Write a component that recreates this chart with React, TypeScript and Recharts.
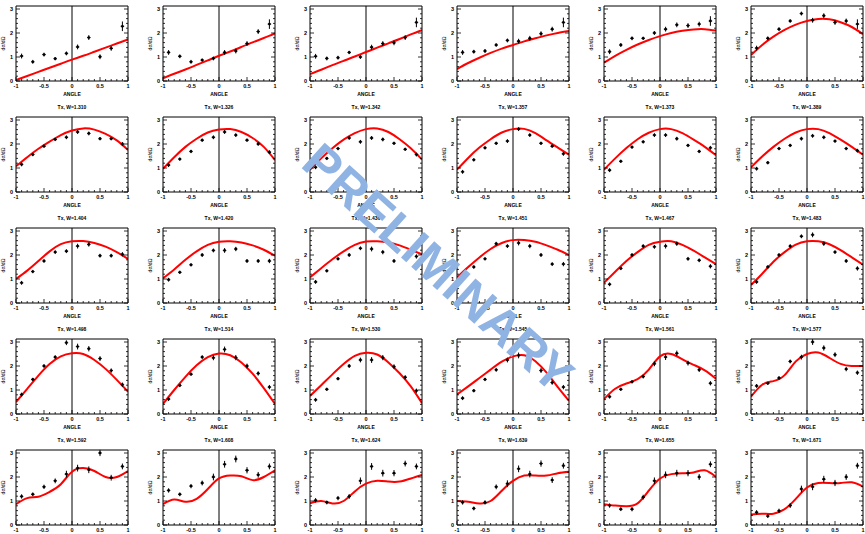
import React from 'react';
import {
  ComposedChart,
  Line,
  Scatter,
  ErrorBar,
  XAxis,
  YAxis,
  ReferenceLine,
} from 'recharts';

const angleBins = [-0.9, -0.7, -0.5, -0.3, -0.1, 0.1, 0.3, 0.5, 0.7, 0.9];
const fitAngles = [-1, -0.8, -0.6, -0.4, -0.2, 0, 0.2, 0.4, 0.6, 0.8, 1];

const xTicks = [-1, -0.9, -0.8, -0.7, -0.6, -0.5, -0.4, -0.3, -0.2, -0.1, 0, 0.1, 0.2, 0.3, 0.4, 0.5, 0.6, 0.7, 0.8, 0.9, 1];
const yTicks = [0, 0.2, 0.4, 0.6, 0.8, 1, 1.2, 1.4, 1.6, 1.8, 2, 2.2, 2.4, 2.6, 2.8, 3];

// titles of panels in rows 2-5 (the top row's titles fall outside the picture)
const panelTitles = [
  'Tx, W=1.310', 'Tx, W=1.326', 'Tx, W=1.342', 'Tx, W=1.357', 'Tx, W=1.373', 'Tx, W=1.389',
  'Tx, W=1.404', 'Tx, W=1.420', 'Tx, W=1.436', 'Tx, W=1.451', 'Tx, W=1.467', 'Tx, W=1.483',
  'Tx, W=1.498', 'Tx, W=1.514', 'Tx, W=1.530', 'Tx, W=1.545', 'Tx, W=1.561', 'Tx, W=1.577',
  'Tx, W=1.592', 'Tx, W=1.608', 'Tx, W=1.624', 'Tx, W=1.639', 'Tx, W=1.655', 'Tx, W=1.671',
];

// measured points, one list per panel, per row
const row1Points = [
  [1.04, 0.8, 1.1, 0.93, 1.15, 1.42, 1.81, 1.01, 1.36, 2.28],
  [1.19, 1.03, 0.8, 0.87, 0.94, 1.19, 1.25, 1.56, 2.06, 2.37],
  [1.03, 0.94, 0.97, 1.19, 1.0, 1.41, 1.56, 1.59, 1.81, 2.44],
  [1.19, 1.22, 1.25, 1.5, 1.69, 1.66, 1.78, 1.97, 2.16, 2.44],
  [1.22, 1.5, 1.78, 1.78, 2.0, 2.16, 2.34, 2.31, 2.37, 2.5],
  [1.37, 1.78, 2.16, 2.5, 2.81, 2.53, 2.72, 2.44, 2.5, 2.37],
];
const row2Points = [
  [1.15, 1.56, 1.91, 2.19, 2.28, 2.5, 2.44, 2.22, 2.22, 2.0],
  [1.12, 1.37, 1.69, 2.16, 2.28, 2.5, 2.37, 2.16, 2.0, 1.66],
  [1.03, 1.4, 1.81, 2.25, 2.09, 2.25, 2.19, 2.03, 1.78, 1.56],
  [0.84, 1.34, 1.84, 2.03, 2.12, 2.62, 2.37, 2.03, 1.91, 1.59],
  [0.91, 1.28, 1.87, 2.09, 2.37, 2.37, 2.22, 1.94, 1.69, 1.84],
  [0.97, 1.22, 1.81, 1.94, 2.22, 2.34, 2.28, 2.12, 1.81, 1.72],
];
const row3Points = [
  [0.84, 1.31, 1.75, 2.12, 2.16, 2.37, 2.44, 1.97, 1.97, 2.03],
  [0.97, 1.28, 1.59, 2.0, 2.19, 2.19, 2.25, 1.75, 1.75, 1.75],
  [0.88, 1.34, 1.84, 2.0, 2.28, 2.25, 2.12, 1.75, 1.87, 1.94],
  [1.03, 1.5, 1.84, 2.47, 2.37, 2.5, 2.37, 2.0, 1.62, 1.62],
  [0.78, 1.44, 2.0, 2.37, 2.34, 2.37, 2.47, 1.84, 1.78, 1.53],
  [0.88, 1.5, 2.0, 2.37, 2.78, 2.84, 2.47, 2.12, 1.75, 1.44],
];
const row4Points = [
  [0.81, 1.44, 2.0, 2.37, 2.97, 2.81, 2.72, 2.31, 1.81, 1.22],
  [0.62, 1.19, 1.66, 2.37, 2.34, 2.69, 2.35, 2.0, 1.69, 1.12],
  [0.59, 1.03, 1.47, 2.0, 2.25, 2.25, 2.35, 1.97, 1.53, 0.97],
  [0.66, 0.97, 1.44, 1.84, 2.25, 2.44, 2.25, 1.81, 1.31, 1.12],
  [0.72, 1.03, 1.34, 1.56, 2.09, 2.37, 2.53, 2.12, 1.84, 1.28],
  [1.17, 1.28, 1.5, 2.19, 2.37, 3.0, 2.75, 2.47, 1.87, 1.72],
];
const row5Points = [
  [1.19, 1.28, 1.59, 1.84, 2.12, 2.37, 2.3, 3.0, 1.97, 2.44],
  [1.44, 1.28, 1.62, 1.75, 2.0, 2.53, 2.75, 2.28, 2.09, 2.44],
  [1.03, 0.94, 1.12, 1.19, 1.84, 2.44, 2.16, 2.16, 2.56, 2.44],
  [0.94, 0.69, 0.94, 1.59, 1.72, 2.34, 2.12, 2.56, 1.87, 2.47],
  [0.81, 0.66, 0.66, 1.16, 1.84, 2.09, 2.16, 2.16, 2.0, 2.53],
  [0.53, 0.37, 0.59, 0.81, 1.5, 1.59, 1.91, 1.75, 2.0, 2.47],
];

// error bar half-lengths, shared along a row
const row1Errors = [0.1, 0.08, 0.08, 0.07, 0.08, 0.1, 0.1, 0.1, 0.1, 0.2];
const row2Errors = [0.08, 0.07, 0.07, 0.07, 0.08, 0.08, 0.08, 0.07, 0.07, 0.08];
const row3Errors = [0.08, 0.07, 0.07, 0.08, 0.08, 0.1, 0.09, 0.08, 0.08, 0.09];
const row4Errors = [0.08, 0.07, 0.07, 0.08, 0.1, 0.12, 0.11, 0.1, 0.09, 0.09];
const row5Errors = [0.09, 0.08, 0.09, 0.1, 0.14, 0.14, 0.14, 0.13, 0.12, 0.12];

// red fit curve read at fitAngles
const row1Fit = [
  [0.04, 0.21, 0.38, 0.55, 0.72, 0.89, 1.05, 1.22, 1.39, 1.56, 1.73],
  [0.11, 0.3, 0.48, 0.67, 0.86, 1.05, 1.23, 1.42, 1.61, 1.79, 1.98],
  [0.29, 0.47, 0.66, 0.84, 1.02, 1.21, 1.39, 1.57, 1.75, 1.94, 2.12],
  [0.5, 0.75, 0.97, 1.17, 1.35, 1.5, 1.65, 1.78, 1.9, 2.0, 2.08],
  [0.76, 1.05, 1.3, 1.52, 1.71, 1.87, 2.0, 2.09, 2.15, 2.16, 2.1],
  [1.08, 1.5, 1.85, 2.13, 2.35, 2.5, 2.58, 2.57, 2.45, 2.25, 1.95],
];
const row2Fit = [
  [1.07, 1.45, 1.8, 2.1, 2.37, 2.56, 2.65, 2.6, 2.42, 2.15, 1.75],
  [0.97, 1.45, 1.88, 2.22, 2.48, 2.6, 2.62, 2.5, 2.25, 1.88, 1.33],
  [0.93, 1.4, 1.82, 2.18, 2.45, 2.62, 2.65, 2.5, 2.2, 1.82, 1.35],
  [0.93, 1.42, 1.85, 2.2, 2.48, 2.62, 2.63, 2.45, 2.15, 1.85, 1.55],
  [0.93, 1.4, 1.83, 2.2, 2.47, 2.62, 2.62, 2.45, 2.18, 1.88, 1.53],
  [1.03, 1.48, 1.88, 2.22, 2.48, 2.62, 2.62, 2.45, 2.18, 1.88, 1.55],
];
const row3Fit = [
  [1.0, 1.35, 1.75, 2.15, 2.45, 2.57, 2.58, 2.5, 2.35, 2.12, 1.84],
  [1.03, 1.4, 1.8, 2.15, 2.42, 2.55, 2.57, 2.52, 2.4, 2.22, 1.97],
  [1.07, 1.45, 1.82, 2.15, 2.42, 2.56, 2.57, 2.52, 2.4, 2.22, 2.03],
  [1.07, 1.5, 1.9, 2.25, 2.5, 2.62, 2.62, 2.55, 2.4, 2.22, 2.0],
  [0.84, 1.3, 1.75, 2.12, 2.42, 2.55, 2.57, 2.42, 2.18, 1.9, 1.62],
  [0.75, 1.22, 1.72, 2.12, 2.43, 2.57, 2.57, 2.45, 2.2, 1.9, 1.6],
];
const row4Fit = [
  [0.5, 1.05, 1.6, 2.08, 2.4, 2.53, 2.5, 2.25, 1.88, 1.42, 0.93],
  [0.42, 1.0, 1.55, 2.03, 2.37, 2.52, 2.45, 2.15, 1.68, 1.08, 0.42],
  [0.75, 1.2, 1.65, 2.08, 2.42, 2.55, 2.48, 2.15, 1.7, 1.15, 0.45],
  [0.81, 1.15, 1.5, 1.85, 2.18, 2.4, 2.45, 2.2, 1.72, 1.12, 0.55],
  [0.62, 1.05, 1.27, 1.45, 1.85, 2.4, 2.5, 2.28, 2.05, 1.82, 1.47],
  [0.72, 1.22, 1.37, 1.62, 2.19, 2.5, 2.56, 2.34, 2.09, 2.0, 2.0],
];
const row5Fit = [
  [0.87, 1.12, 1.18, 1.38, 1.7, 2.22, 2.37, 2.25, 2.0, 2.0, 2.25],
  [0.87, 1.06, 0.97, 1.09, 1.5, 1.94, 2.06, 2.03, 1.87, 2.0, 2.28],
  [0.9, 1.0, 0.9, 1.0, 1.4, 1.72, 1.84, 1.81, 1.81, 1.94, 2.09],
  [1.0, 0.97, 0.9, 1.0, 1.43, 1.84, 2.06, 2.06, 2.06, 2.16, 2.22],
  [0.87, 0.81, 0.78, 0.9, 1.43, 1.94, 2.12, 2.16, 2.19, 2.28, 2.0],
  [0.44, 0.47, 0.47, 0.66, 1.09, 1.56, 1.75, 1.75, 1.75, 1.78, 1.6],
];

const rows = [
  { points: row1Points, fit: row1Fit, errors: row1Errors },
  { points: row2Points, fit: row2Fit, errors: row2Errors },
  { points: row3Points, fit: row3Fit, errors: row3Errors },
  { points: row4Points, fit: row4Fit, errors: row4Errors },
  { points: row5Points, fit: row5Fit, errors: row5Errors },
];

const FONT = '"Liberation Sans", Arial, sans-serif';
const PANEL_W = 147;
const ROW_STEP = 111;

const isMajor = (v: number, step: number) => Math.abs(v / step - Math.round(v / step)) < 1e-6;
const fmt = (v: number) => String(Math.round(v * 10) / 10);

const BottomTick = (props: any) => {
  const { x, y, payload } = props;
  const major = isMajor(payload.value, 0.5);
  return (
    <g>
      <line x1={x} x2={x} y1={y} y2={y - (major ? 4 : 2)} stroke="#000" strokeWidth={0.8} />
      {major && (
        <text x={x} y={y + 7} textAnchor="middle" fontSize={5.5} fontWeight="bold" fontFamily={FONT} fill="#000">
          {fmt(payload.value)}
        </text>
      )}
    </g>
  );
};

const TopTick = (props: any) => {
  const { x, y, payload } = props;
  const major = isMajor(payload.value, 0.5);
  return <line x1={x} x2={x} y1={y} y2={y + (major ? 4 : 2)} stroke="#000" strokeWidth={0.8} />;
};

const LeftTick = (props: any) => {
  const { x, y, payload } = props;
  const major = isMajor(payload.value, 1);
  return (
    <g>
      <line x1={x} x2={x + (major ? 4 : 2)} y1={y} y2={y} stroke="#000" strokeWidth={0.8} />
      {major && (
        <text x={x - 3} y={y + 2} textAnchor="end" fontSize={5.5} fontWeight="bold" fontFamily={FONT} fill="#000">
          {fmt(payload.value)}
        </text>
      )}
    </g>
  );
};

const RightTick = (props: any) => {
  const { x, y, payload } = props;
  const major = isMajor(payload.value, 1);
  return <line x1={x} x2={x - (major ? 4 : 2)} y1={y} y2={y} stroke="#000" strokeWidth={0.8} />;
};

const YTitle = (props: any) => {
  const { x, y, height } = props.viewBox;
  const cx = x - 10;
  const cy = y + height / 2;
  return (
    <text x={cx} y={cy} transform={`rotate(-90 ${cx} ${cy})`} textAnchor="middle" fontSize={5} fontFamily={FONT} fill="#000">
      dσ/dΩ
    </text>
  );
};

const Dot = (props: any) => (
  <g>
    <circle cx={props.cx} cy={props.cy} r={1.4} fill="#000" />
    <line x1={props.cx - 1.8} x2={props.cx + 1.8} y1={props.cy} y2={props.cy} stroke="#000" strokeWidth={0.8} />
  </g>
);

interface PanelProps {
  points: number[];
  fit: number[];
  errors: number[];
  title?: string;
  showAngle: boolean;
  left: number;
  top: number;
}

const Panel = ({ points, fit, errors, title, showAngle, left, top }: PanelProps) => {
  const pts = angleBins.map((x, i) => ({ x, y: points[i], err: errors[i] }));
  const curve = fitAngles.map((x, i) => ({ x, y: fit[i] }));
  return (
    <div style={{ position: 'absolute', left, top }}>
      <ComposedChart width={PANEL_W} height={121} margin={{ top: 15, right: 18, bottom: 29, left: 15 }}>
        <XAxis
          dataKey="x"
          type="number"
          domain={[-1, 1]}
          ticks={xTicks}
          interval={0}
          height={1}
          tickLine={false}
          tickSize={0}
          tickMargin={0}
          tick={BottomTick}
          axisLine={{ stroke: '#000' }}
          allowDataOverflow
          label={
            showAngle
              ? { value: 'ANGLE', position: 'bottom', offset: 10, fontSize: 5, fontWeight: 'bold', fontFamily: FONT, fill: '#000' }
              : undefined
          }
        />
        <XAxis
          xAxisId="top"
          orientation="top"
          type="number"
          domain={[-1, 1]}
          ticks={xTicks}
          interval={0}
          height={1}
          tickLine={false}
          tickSize={0}
          tickMargin={0}
          tick={TopTick}
          axisLine={{ stroke: '#000' }}
          allowDataOverflow
          label={
            title
              ? { value: title, position: 'top', offset: 7, fontSize: 5, fontWeight: 'bold', fontFamily: FONT, fill: '#000' }
              : undefined
          }
        />
        <YAxis
          type="number"
          domain={[0, 3.125]}
          ticks={yTicks}
          interval={0}
          width={1}
          tickLine={false}
          tickSize={0}
          tickMargin={0}
          tick={LeftTick}
          axisLine={{ stroke: '#000' }}
          allowDataOverflow
          label={{ content: YTitle }}
        />
        <YAxis
          yAxisId="right"
          orientation="right"
          type="number"
          domain={[0, 3.125]}
          ticks={yTicks}
          interval={0}
          width={1}
          tickLine={false}
          tickSize={0}
          tickMargin={0}
          tick={RightTick}
          axisLine={{ stroke: '#000' }}
          allowDataOverflow
        />
        <ReferenceLine x={0} stroke="#000" strokeWidth={1} />
        <Line
          data={curve}
          dataKey="y"
          type="natural"
          stroke="#ff0000"
          strokeWidth={2}
          dot={false}
          isAnimationActive={false}
        />
        <Scatter data={pts} dataKey="y" shape={Dot} isAnimationActive={false}>
          <ErrorBar dataKey="err" direction="y" width={0} stroke="#000" strokeWidth={1} />
        </Scatter>
      </ComposedChart>
    </div>
  );
};

export default function App() {
  return (
    <div
      style={{
        position: 'absolute',
        left: 0,
        top: 0,
        width: 865,
        height: 534,
        overflow: 'hidden',
        background: '#fff',
      }}
    >
      {rows.map((row, r) =>
        row.points.map((p, c) => (
          <Panel
            key={`${r}-${c}`}
            points={p}
            fit={row.fit[c]}
            errors={row.errors}
            title={r > 0 ? panelTitles[(r - 1) * 6 + c] : undefined}
            showAngle={r < rows.length - 1}
            left={c * PANEL_W}
            top={6 + r * ROW_STEP - 16}
          />
        ))
      )}
      <div
        style={{
          position: 'absolute',
          left: 438,
          top: 268,
          transform: 'translate(-50%, -50%) rotate(42deg)',
          color: '#8fb3e3',
          fontFamily: FONT,
          fontWeight: 'bold',
          fontSize: 50,
          lineHeight: 1,
          whiteSpace: 'nowrap',
        }}
      >
        PRELIMINARY
      </div>
    </div>
  );
}
